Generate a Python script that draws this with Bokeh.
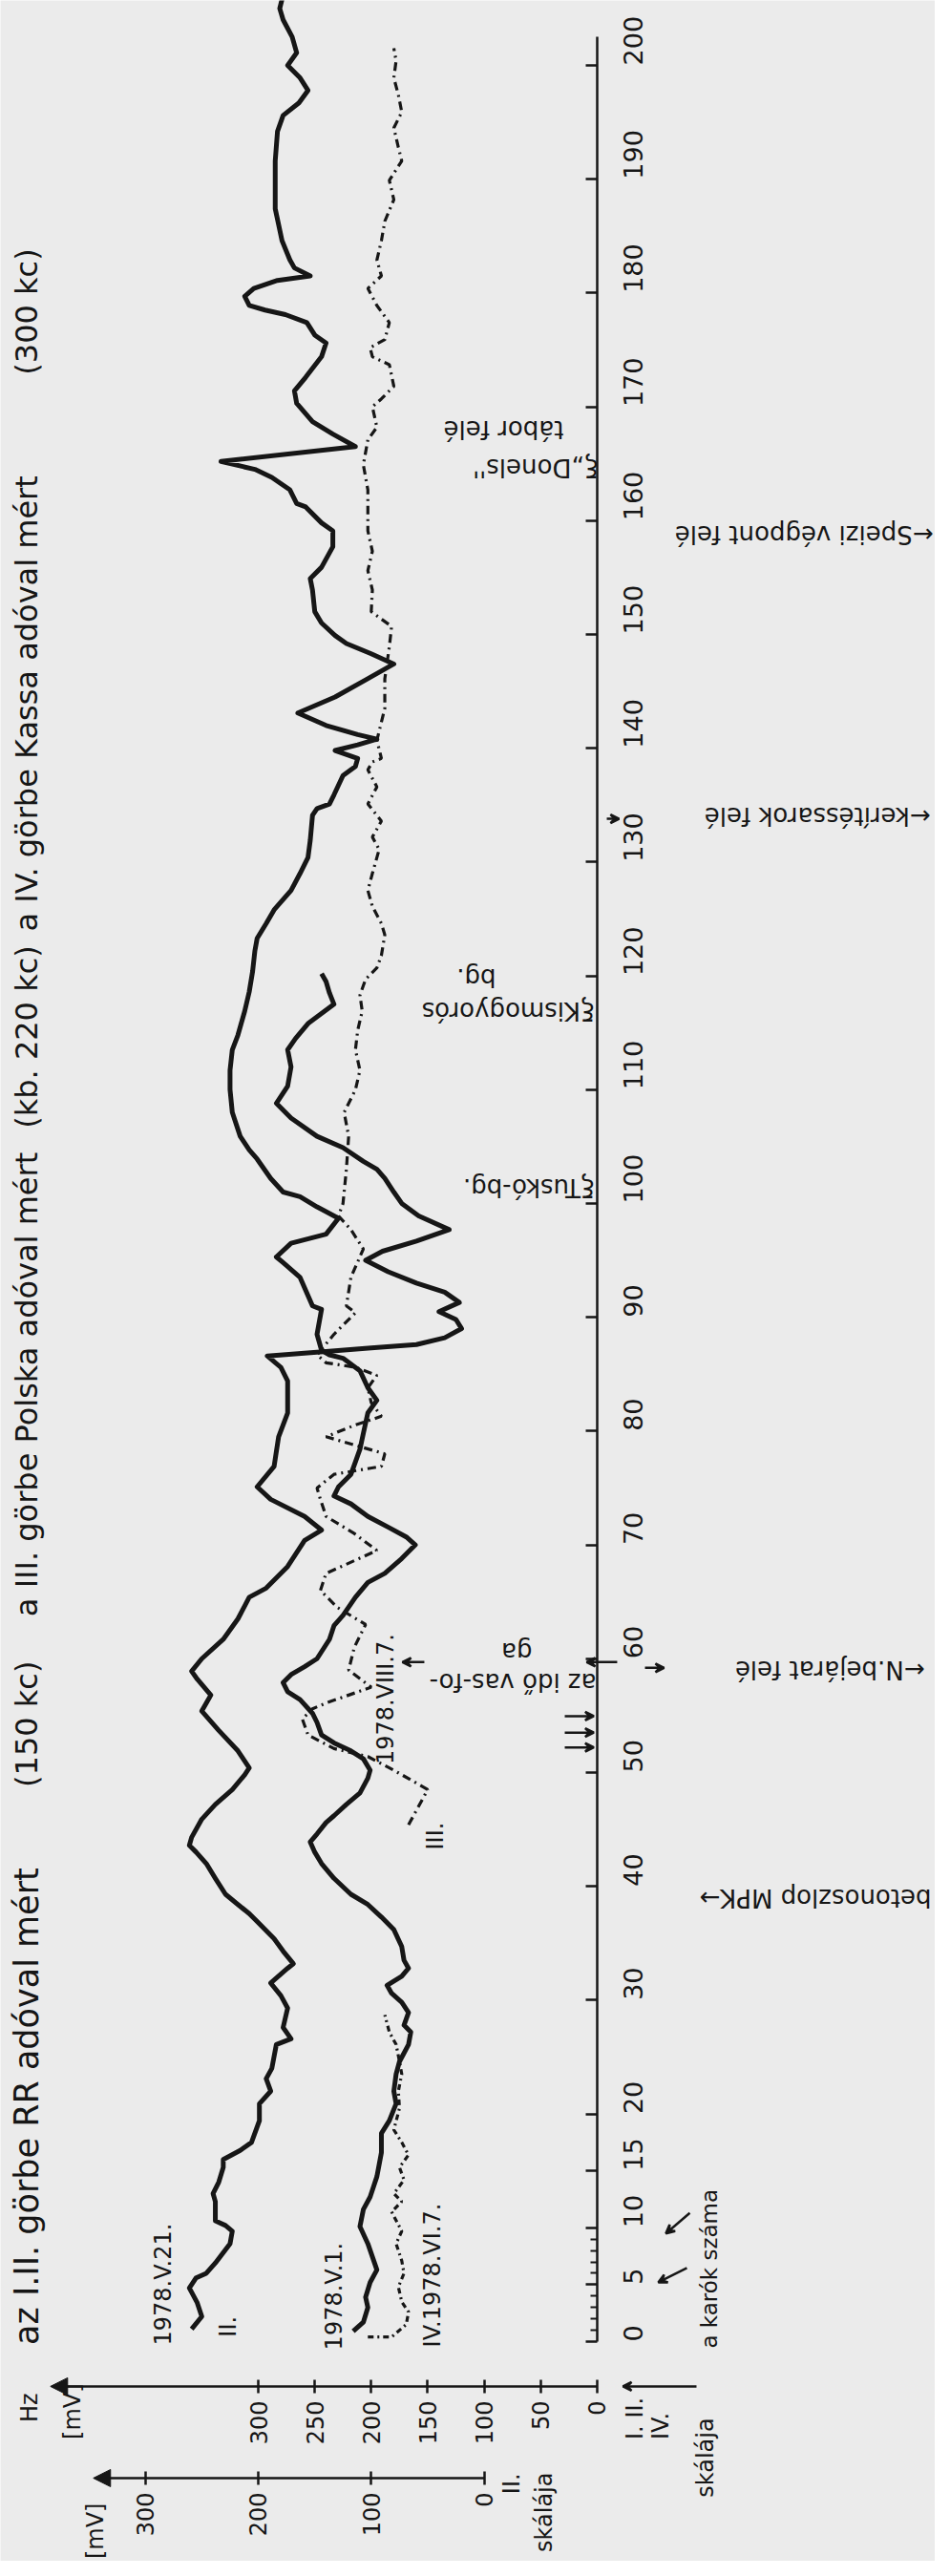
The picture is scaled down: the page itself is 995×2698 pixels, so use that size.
import math
import numpy as np
from bokeh.plotting import figure
from bokeh.models import Range1d, LinearAxis, FixedTicker, Arrow, NormalHead, VeeHead, ColumnDataSource
from bokeh.core.properties import value
from bokeh.embed import file_html
from bokeh.resources import INLINE

# ---------------- data ----------------
II_SCALE_OFFSET = 100  # zero of the II. scale sits at 100 mV of the I./III./IV. scale

curve1_stake = [0.9, 1.7, 3.0, 3.9, 5.2, 6.3, 8.6, 10.1, 11.6, 12.7, 14.5, 16.6, 18.3, 19.4, 20.9, 22.0, 23.5, 24.6,
                26.1, 27.2, 27.8, 28.9, 29.8, 30.6, 31.3, 32.1, 32.8, 33.5, 34.7, 36.2, 37.3, 38.4, 39.3, 40.7, 42.0,
                43.0, 43.9, 44.6, 45.6, 46.2, 47.2, 48.2, 49.5, 50.2, 51.2, 51.9, 52.6, 53.3, 54.4, 55.2, 56.4, 57.1,
                57.9, 58.6, 59.3, 60.0, 61.7, 62.9, 63.8, 65.4, 66.7, 67.5, 68.8, 70.0, 70.7, 71.5, 72.5, 73.6, 74.3,
                75.1, 76.2, 77.3, 78.4, 79.8, 81.6, 82.7, 83.8, 85.3, 86.4, 86.7, 87.1, 88.5, 90.7, 91.0, 93.5, 94.8,
                95.3, 96.5, 97.3, 98.7, 99.7, 100.6, 101.0, 102.2, 103.9, 104.7, 105.9, 108.0, 110.0, 111.7, 113.5,
                114.8, 116.9, 118.6, 120.4, 122.2, 123.3, 124.6, 125.8, 127.5, 129.0, 130.4, 131.9, 134.1, 134.7,
                135.1, 135.9, 137.6, 138.4, 139.1, 139.8, 140.3, 140.8, 141.2, 142.0, 143.1, 144.5, 146.0, 147.4,
                148.3, 149.2, 149.9, 151.0, 152.0, 153.9, 154.9, 155.9, 157.7, 159.1, 159.8, 161.2, 161.5, 162.7,
                163.8, 164.5, 165.2, 166.5, 167.6, 168.7, 170.3, 171.4, 172.6, 174.4, 175.6, 176.3, 177.4, 178.1,
                178.5, 178.9, 179.7, 180.4, 181.1, 181.5, 182.2, 182.9, 184.6, 186.0, 187.4, 189.5, 191.6, 194.2,
                195.6, 196.7, 197.8, 198.9, 200.0, 201.1, 202.5, 204.0, 205.0, 206.2]
curve1_mv = [216, 207, 203, 205, 201, 195, 203, 210, 207, 201, 195, 191, 191, 184, 178, 180, 178, 175,
             167, 165, 171, 167, 173, 182, 186, 173, 167, 171, 173, 180, 191, 203, 218, 233, 244,
             250, 254, 248, 240, 233, 222, 210, 203, 201, 207, 218, 233, 244, 248, 252, 263, 274,
             278, 271, 259, 248, 237, 233, 225, 214, 203, 188, 173, 161, 169, 184, 203, 218, 233,
             229, 218, 214, 210, 207, 203, 195, 203, 210, 225, 237, 244, 248, 244, 252, 263, 278,
             284, 271, 240, 229, 248, 263, 278, 289, 301, 308, 316, 323, 325, 325, 323,
             318, 312, 308, 305, 303, 301, 293, 286, 271, 263, 256, 254, 252, 248,
             237, 233, 225, 214, 212, 232, 212, 195, 212, 240, 265, 232, 205, 180,
             200, 222, 232, 244, 250, 252, 254, 244, 234, 234, 244, 258, 266, 272,
             288, 303, 333, 214, 234, 252, 266, 268, 258, 244, 240, 250, 257, 276,
             294, 308, 312, 304, 283, 254, 268, 272, 279, 282, 285, 285, 285, 283,
             278, 264, 256, 263, 274, 266, 270, 278, 281, 278]

curve2_stake = [1.1, 2.2, 3.4, 4.7, 5.6, 6.0, 6.9, 8.6, 9.7, 10.2, 10.6, 12.3, 13.0, 14.0, 15.3, 16.0, 16.8, 17.5,
                19.4, 20.9, 22.0, 23.1, 24.0, 26.1, 26.6, 27.6, 29.3, 30.4, 31.5, 32.8, 33.2, 34.3, 35.4, 36.9,
                37.6, 38.4, 39.3, 40.7, 42.0, 43.0, 43.6, 44.3, 45.9, 47.2, 48.5, 49.8, 50.4, 51.9, 53.7, 55.4,
                56.8, 58.2, 58.9, 60.0, 61.7, 63.5, 65.4, 66.2, 68.1, 70.4, 71.3, 72.5, 74.0, 75.1, 76.9, 79.5,
                81.6, 84.4, 85.6, 86.6, 87.0, 87.3, 87.6, 88.2, 89.0, 89.8, 90.5, 91.3, 92.2, 93.0, 94.0, 95.0,
                95.8, 96.7, 97.7, 98.9, 100.0, 101.0, 102.2, 103.0, 103.7, 104.9, 105.9, 107.5, 108.8, 110.3,
                112.0, 113.5, 114.5, 115.8, 117.5, 118.5, 119.5, 120.2]
curve2_mv = [259, 250, 254, 261, 255, 246, 238, 225, 223, 229, 238, 238, 240, 235, 231, 231, 216, 206,
             199, 199, 189, 193, 188, 184, 171, 178, 174, 180, 189, 174, 169, 178, 186, 201,
             208, 218, 229, 238, 246, 255, 261, 259, 250, 238, 223, 212, 208, 218, 235, 250,
             242, 254, 259, 250, 231, 218, 208, 193, 174, 159, 144, 159, 189, 201, 186, 182,
             174, 174, 180, 192, 140, 100, 60, 35, 20, 25, 40, 22, 35, 60, 85, 105,
             90, 60, 31, 58, 73, 80, 88, 95, 107, 125, 148, 171, 184, 174,
             171, 174, 167, 156, 133, 137, 140, 144]

curve3_stake = [45.4, 48.5, 50.2, 51.4, 52.1, 53.3, 54.7, 55.6, 56.1, 57.5, 59.0, 61.0, 63.0, 64.5, 66.0, 67.5,
                69.5, 71.0, 72.5, 74.0, 75.0, 76.2, 76.9, 78.0, 79.5, 80.5, 81.3, 82.5, 83.8, 84.9, 85.6, 86.0,
                86.7, 88.5, 90.4, 91.0, 93.5, 96.0, 97.7, 98.9, 100.0, 103.0, 105.9, 108.0, 110.0, 111.7, 113.5,
                115.2, 116.9, 118.3, 119.7, 120.7, 121.8, 123.6, 124.6, 126.1, 127.5, 129.0, 131.1, 132.2, 133.6,
                135.1, 136.6, 138.1, 138.8, 139.1, 140.7, 143.5, 146.1, 148.9, 150.7, 152.0, 153.9, 155.6, 157.3,
                159.1, 162.7, 164.9, 167.1, 168.2, 170.0, 170.7, 171.8, 173.7, 174.4, 175.2, 175.9, 177.4, 178.9,
                180.4, 181.5, 182.9, 184.6, 186.3, 188.2, 189.9, 191.6, 192.8, 194.5, 195.9, 197.4, 198.9, 200.4,
                201.5]
curve3_mv = [167, 150, 180, 203, 233, 256, 261, 252, 240, 200, 220, 215, 205, 230, 245, 240,
             195, 215, 240, 245, 248, 233, 191, 188, 240, 215, 191, 200, 203, 195, 214, 240,
             248, 233, 214, 222, 218, 207, 218, 229, 225, 222, 220, 224, 214, 210, 214,
             212, 208, 210, 205, 195, 191, 188, 191, 199, 203, 199, 193, 199, 191,
             203, 195, 203, 199, 191, 195, 188, 188, 184, 182, 200, 199, 203, 199,
             203, 203, 207, 203, 195, 199, 191, 180, 184, 199, 201, 188, 184, 195,
             203, 191, 195, 191, 188, 180, 184, 173, 176, 180, 173, 176, 180, 178,
             180]

curve4_stake = [0.4, 0.4, 1.5, 2.6, 3.5, 4.8, 6.0, 7.1, 8.6, 9.7, 11.4, 12.3, 13.0, 14.2, 15.3, 16.4, 17.5, 18.6,
                20.5, 22.0, 23.5, 24.6, 26.1, 27.2, 28.7]
curve4_mv = [203, 182, 169, 167, 173, 176, 171, 173, 178, 173, 182, 173, 180, 171, 175, 167, 173, 180,
             175, 176, 173, 175, 178, 184, 188]

stake_ticks = [0, 5, 10, 15, 20, 30, 40, 50, 60, 70, 80, 90, 100, 110, 120, 130, 140, 150, 160, 170, 180, 190, 200]
stake_minor_ticks = [1, 2, 3, 4, 6, 7, 8, 9]
scale1_ticks = [0, 50, 100, 150, 200, 250, 300]
scale2_ticks = [0, 100, 200, 300]

# ---------------- styling ----------------
BG = "#ebebeb"
INK = "#161616"
FONT = "DejaVu Sans"

p = figure(width=979, height=2682,
           x_range=Range1d(528.2, -299.2), y_range=Range1d(-19.3, 205.7),
           x_axis_type=None, y_axis_type=None,
           output_backend="svg", toolbar_location=None, min_border=0,
           background_fill_color=BG, border_fill_color=BG, outline_line_color=None)

# curves: value on horizontal (growing to the left), stake number on vertical
p.line(x=curve1_mv, y=curve1_stake, line_color=INK, line_width=5, line_join="round")
p.line(x=(np.array(curve2_mv) + II_SCALE_OFFSET).tolist(), y=curve2_stake, line_color=INK, line_width=5,
       line_join="round")
p.line(x=curve3_mv, y=curve3_stake, line_color=INK, line_width=3.2, line_dash="9 5 2 5")
p.line(x=curve4_mv, y=curve4_stake, line_color=INK, line_width=3.2, line_dash="6 4 2 4")

# ---------------- axes ----------------
def style_axis(ax, size):
    ax.axis_line_color = INK
    ax.axis_line_width = 2.5
    ax.major_tick_line_color = INK
    ax.major_tick_line_width = 2.5
    ax.minor_tick_line_color = INK
    ax.minor_tick_line_width = 2
    ax.major_label_text_font = FONT
    ax.major_label_text_font_size = size
    ax.major_label_text_color = INK

ax1 = LinearAxis(fixed_location=-3.94, bounds=(0, 482), ticker=FixedTicker(ticks=scale1_ticks),
                 major_tick_in=7, major_tick_out=7, minor_tick_in=0, minor_tick_out=0,
                 major_label_standoff=8, major_label_orientation=math.pi / 2)
style_axis(ax1, "24px")
p.add_layout(ax1, "below")

ax2_ticks = [t + II_SCALE_OFFSET for t in scale2_ticks]
ax2 = LinearAxis(fixed_location=-12.0, bounds=(II_SCALE_OFFSET, 444), ticker=FixedTicker(ticks=ax2_ticks),
                 major_tick_in=7, major_tick_out=7, minor_tick_in=0, minor_tick_out=0,
                 major_label_standoff=8, major_label_orientation=math.pi / 2,
                 major_label_overrides={float(t + II_SCALE_OFFSET): str(t) for t in scale2_ticks})
style_axis(ax2, "24px")
p.add_layout(ax2, "below")

ax3 = LinearAxis(fixed_location=0, bounds=(0, 202.5),
                 ticker=FixedTicker(ticks=stake_ticks, minor_ticks=stake_minor_ticks),
                 major_tick_in=12, major_tick_out=0, minor_tick_in=7, minor_tick_out=0,
                 major_label_standoff=38, major_label_orientation=math.pi / 2)
style_axis(ax3, "27px")
p.add_layout(ax3, "right")

# axis arrow heads
for xs, xe, yy in [(470, 484, -3.94), (432, 446, -12.0)]:
    p.add_layout(Arrow(end=NormalHead(size=18, fill_color=INK, line_color=INK), x_start=xs, y_start=yy,
                       x_end=xe, y_end=yy, line_color=INK, line_width=2.5))

# ---------------- texts ----------------
def add_texts(items, angle, size, align="left"):
    src = ColumnDataSource(dict(x=[i[1] for i in items], y=[i[2] for i in items], t=[i[0] for i in items]))
    p.text(x="x", y="y", text="t", source=src, angle=angle, text_font=value(FONT),
           text_font_size=value(size), text_color=INK, text_align=align, text_baseline="middle")

# title, written upward along the left edge
add_texts([("az I.II. görbe RR adóval mért", 505, -0.3)], math.pi / 2, "35px")
add_texts([("(150 kc)", 505, 48.7),
           ("a III. görbe Polska adóval mért", 505, 63.7),
           ("(kb. 220 kc)", 505, 106.6),
           ("a IV. görbe Kassa adóval mért", 505, 123.9),
           ("(300 kc)", 505, 172.8)], math.pi / 2, "32px")

add_texts([("1978.V.21.", 383.7, -0.34),
           ("II.", 327, 0.4),
           ("1978.V.1.", 233, -0.75),
           ("IV.1978.VI.7.", 146, -0.5),
           ("III.", 143, 43.2),
           ("1978.VIII.7.", 187.6, 50.7),
           ("Hz", 502.8, -7.1),
           ("[mV]", 464, -8.6),
           ("[mV]", 444.5, -19.1),
           ("I. II.", -33.8, -8.6),
           ("IV.", -56.6, -8.6),
           ("skálája", -96.3, -13.7),
           ("II.", 76, -13.4),
           ("skálája", 46.5, -18.5)], math.pi / 2, "24px")
add_texts([("a karók száma", -98.9, -0.6)], math.pi / 2, "23px")

# upside-down place names
add_texts([("←N.bejárat felé", -289.9, 59.0),
           ("betonoszlop MPK→", -295.8, 39.0),
           ("←kerítéssarok felé", -295.0, 134.0),
           ("←Speizi végpont felé", -297.5, 158.8),
           ("az idő vas-fo-", 0.8, 57.9),
           ("ga", 57.5, 60.6),
           ("ξTuskó-bg.", 2.5, 101.4),
           ("ξKismogyorós", 2.5, 116.9),
           ("bg.", 89.6, 119.8),
           ("ξ„Donels''", -0.8, 164.6),
           ("tábor felé", 29.6, 168.0)], math.pi, "26px")

# small pointer arrows
for xs, ys, xe, ye in [(153, 59.7, 172.4, 59.7), (-17.7, 59.7, 9.3, 59.7), (-42.3, 59.2, -59.2, 59.2),
                       (-8.5, 133.8, -19.4, 133.8), (-87.9, -3.94, -22.8, -3.94),
                       (-79.4, 6.46, -54.1, 5.2), (-82.0, 11.3, -60.8, 9.5),
                       (28.7, 54.95, 3, 54.95), (28.7, 53.5, 3, 53.5), (28.7, 52.2, 3, 52.2)]:
    p.add_layout(Arrow(end=VeeHead(size=9, line_color=INK, line_width=2.5), x_start=xs, y_start=ys,
                       x_end=xe, y_end=ye, line_color=INK, line_width=2.5))

open("out.html", "w").write(file_html(p, INLINE))
